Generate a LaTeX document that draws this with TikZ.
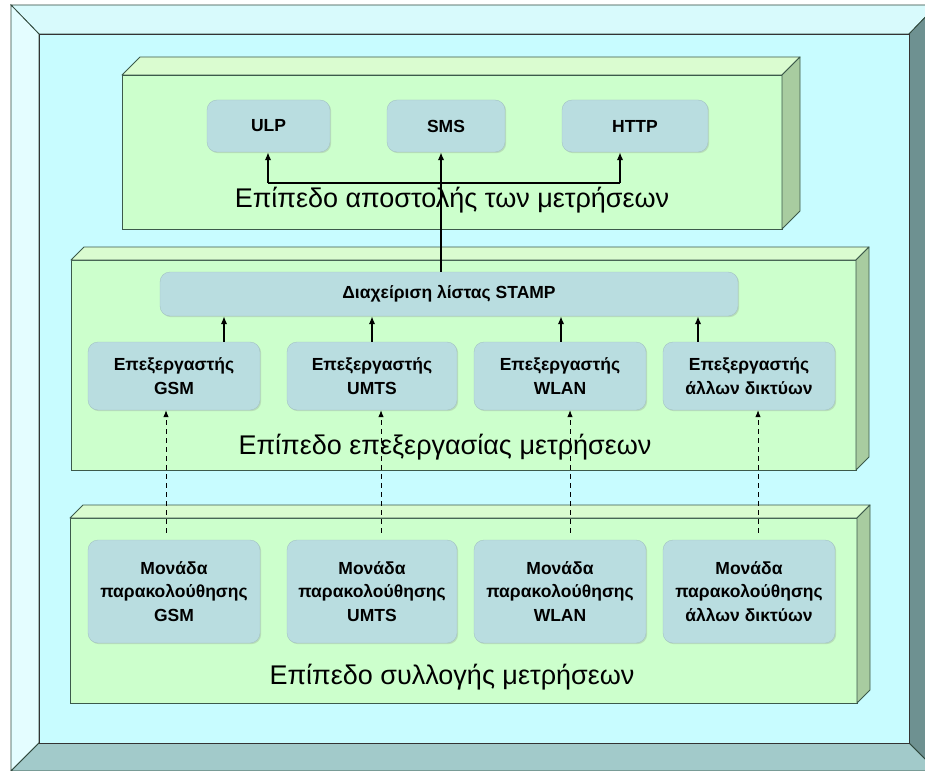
\documentclass[tikz,border=0pt]{standalone}
\usepackage{fontspec}
\setmainfont{Liberation Sans}
\usetikzlibrary{arrows.meta,shadows,calc}
\definecolor{bgc}{RGB}{200,252,255}
\definecolor{bevtop}{RGB}{216,250,252}
\definecolor{bevleft}{RGB}{228,253,255}
\definecolor{bevright}{RGB}{110,145,145}
\definecolor{bevbot}{RGB}{162,202,202}
\definecolor{pfrontc}{RGB}{204,255,204}
\definecolor{ptopc}{RGB}{218,252,208}
\definecolor{psidec}{RGB}{168,204,160}
\definecolor{pline}{RGB}{60,90,75}
\definecolor{boxc}{RGB}{185,221,224}
\newcommand{\slab}[5]{%
  \filldraw[fill=pfrontc,draw=pline,line width=0.9pt] (#1,#2) rectangle (#3,#4);
  \filldraw[fill=ptopc,draw=pline,line width=0.9pt,line join=round] (#1,#2) -- (#1+#5,#2-#5) -- (#3+#5,#2-#5) -- (#3,#2) -- cycle;
  \filldraw[fill=psidec,draw=pline,line width=0.9pt,line join=round] (#3,#2) -- (#3+#5,#2-#5) -- (#3+#5,#4-#5) -- (#3,#4) -- cycle;
}
\begin{document}
\begin{tikzpicture}[x=1pt,y=-1pt,
  box/.style={fill=boxc, rounded corners=10pt, draw=boxc!88!black, line width=0.4pt,
    align=center, inner sep=0pt, font=\bfseries\fontsize{17.5}{23.5}\selectfont,
    drop shadow={shadow xshift=1.2pt,shadow yshift=-1.2pt,opacity=0.25}},
  layer/.style={font=\fontsize{27}{30}\selectfont, inner sep=0pt},
  arr/.style={line width=1.7pt, -{Latex[length=8pt,width=6.5pt]}},
  plain/.style={line width=1.7pt},
  darr/.style={line width=0.8pt, dash pattern=on 5pt off 4pt, -{Latex[length=7pt,width=5.5pt]}}
]
\useasboundingbox (0,0) rectangle (925,770);
\fill[white] (0,0) rectangle (925,770);
% outer frame bevels
\filldraw[fill=bevtop,draw=pline!80!black,line width=0.8pt] (11,5) -- (937,5) -- (909,34) -- (39,34) -- cycle;
\filldraw[fill=bevleft,draw=pline!80!black,line width=0.8pt] (11,5) -- (39,34) -- (39,743) -- (11,771) -- cycle;
\filldraw[fill=bevright,draw=pline!80!black,line width=0.8pt] (937,5) -- (909,34) -- (909,743) -- (937,771) -- cycle;
\filldraw[fill=bevbot,draw=pline!80!black,line width=0.8pt] (11,771) -- (39,743) -- (909,743) -- (937,771) -- cycle;
\filldraw[fill=bgc,draw=black!80,line width=0.9pt] (39,34) rectangle (909,743);
% panels
\slab{122}{75}{782}{229}{18}
\slab{71}{260}{856}{470}{13}
\slab{70}{518}{857}{703}{13}
% top panel nodes
\node[box, minimum width=123pt, minimum height=52pt] (ulp) at (268.5,126) {ULP};
\node[box, minimum width=118pt, minimum height=52pt] (sms) at (446,126) {SMS};
\node[box, minimum width=146pt, minimum height=52pt] (http) at (635,126) {HTTP};
\node[layer] (l1) at (452,200) {Επίπεδο αποστολής των μετρήσεων};
% middle panel nodes
\node[box, minimum width=578pt, minimum height=44pt] (stamp) at (449,294) {Διαχείριση λίστας STAMP};
\node[box, minimum width=172pt, minimum height=68pt] (pgsm) at (174,376) {Επεξεργαστής\\GSM};
\node[box, minimum width=170pt, minimum height=68pt] (pumts) at (372,376) {Επεξεργαστής\\UMTS};
\node[box, minimum width=172pt, minimum height=68pt] (pwlan) at (560,376) {Επεξεργαστής\\WLAN};
\node[box, minimum width=172pt, minimum height=68pt] (poth) at (749,376) {Επεξεργαστής\\άλλων δικτύων};
\node[layer] (l2) at (445,447) {Επίπεδο επεξεργασίας μετρήσεων};
% bottom panel nodes
\node[box, minimum width=172pt, minimum height=103pt] (mgsm) at (174,591.5) {Μονάδα\\παρακολούθησης\\GSM};
\node[box, minimum width=170pt, minimum height=103pt] (mumts) at (372,591.5) {Μονάδα\\παρακολούθησης\\UMTS};
\node[box, minimum width=172pt, minimum height=103pt] (mwlan) at (560,591.5) {Μονάδα\\παρακολούθησης\\WLAN};
\node[box, minimum width=172pt, minimum height=103pt] (moth) at (749,591.5) {Μονάδα\\παρακολούθησης\\άλλων δικτύων};
\node[layer] (l3) at (452,677) {Επίπεδο συλλογής μετρήσεων};
% tree connectors
\coordinate (j) at (441,183);
\coordinate (jl) at (268,183);
\coordinate (jr) at (620,183);
\draw[arr] (stamp.north -| j) -- (sms.south -| j);
\draw[plain] (jl) -- (jr);
\draw[arr] (jl) -- (ulp.south -| jl);
\draw[arr] (jr) -- (http.south -| jr);
% processor -> stamp
\draw[arr] ([xshift=50pt]pgsm.north) -- ([xshift=50pt]pgsm.north |- stamp.south);
\draw[arr] (pumts.north) -- (pumts.north |- stamp.south);
\draw[arr] ([xshift=1pt]pwlan.north) -- ([xshift=1pt]pwlan.north |- stamp.south);
\draw[arr] ([xshift=-51pt]poth.north) -- ([xshift=-51pt]poth.north |- stamp.south);
% monitors -> processors
\draw[darr] ([xshift=-8pt,yshift=7pt]mgsm.north) -- ([xshift=-8pt]mgsm.north |- pgsm.south);
\draw[darr] ([xshift=9pt,yshift=7pt]mumts.north) -- ([xshift=9pt]mumts.north |- pumts.south);
\draw[darr] ([xshift=10pt,yshift=7pt]mwlan.north) -- ([xshift=10pt]mwlan.north |- pwlan.south);
\draw[darr] ([xshift=9pt,yshift=7pt]moth.north) -- ([xshift=9pt]moth.north |- poth.south);
\end{tikzpicture}
\end{document}
